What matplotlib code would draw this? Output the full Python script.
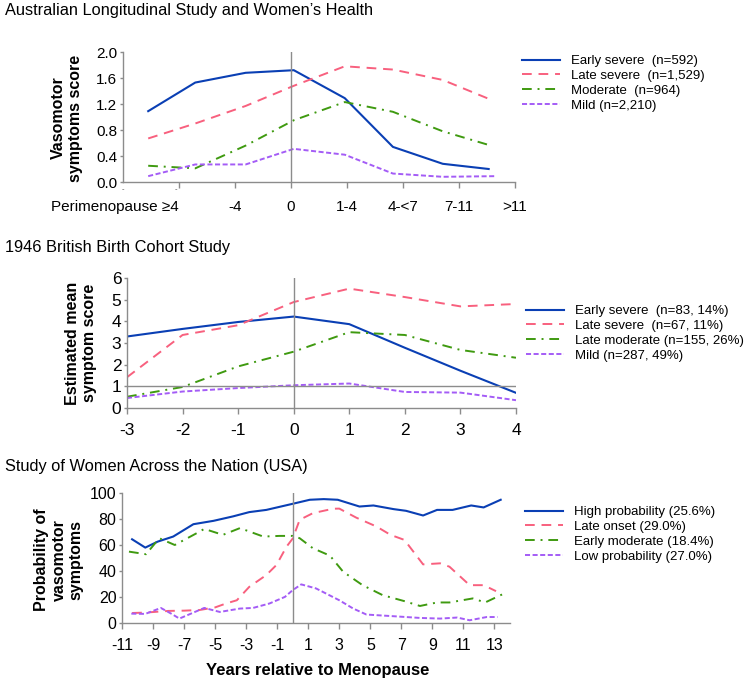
import numpy as np
import matplotlib
matplotlib.use("Agg")
from matplotlib import pyplot as plt
from matplotlib import transforms

plt.rcParams['font.family'] = ['Liberation Sans', 'DejaVu Sans']

# ---- panel 1: Australian Longitudinal Study ----
alsw_x = [-2.55, -1.71, -0.81, 0.05, 0.96, 1.82, 2.71, 3.53]
alsw_mild_x = [-2.55, -1.71, -0.81, 0.05, 0.96, 1.82, 2.71, 3.67]
alsw_early = [1.09, 1.53, 1.68, 1.72, 1.29, 0.54, 0.28, 0.20]
alsw_late = [0.67, 0.90, 1.17, 1.48, 1.78, 1.73, 1.57, 1.28]
alsw_mod = [0.25, 0.21, 0.56, 0.95, 1.23, 1.08, 0.78, 0.57]
alsw_mild = [0.09, 0.27, 0.27, 0.51, 0.42, 0.13, 0.08, 0.09]
alsw_ticks = [-2, -1, 0, 1, 2, 3, 4]
alsw_ticklabels = ["Perimenopause \u22654", "-4", "0", "1-4", "4-<7", "7-11", ">11"]
alsw_labels = ["Early severe  (n=592)", "Late severe  (n=1,529)",
               "Moderate  (n=964)", "Mild (n=2,210)"]

# ---- panel 2: 1946 British Birth Cohort ----
nshd_x = [-3, -2, -1, 0, 1, 2, 3, 4]
nshd_early = [3.30, 3.65, 3.97, 4.22, 3.87, 2.78, 1.72, 0.70]
nshd_late = [1.42, 3.37, 3.82, 4.89, 5.51, 5.12, 4.69, 4.80]
nshd_mod = [0.52, 0.97, 1.92, 2.60, 3.50, 3.37, 2.68, 2.32]
nshd_mild = [0.46, 0.76, 0.92, 1.05, 1.13, 0.74, 0.71, 0.36]
nshd_labels = ["Early severe  (n=83, 14%)", "Late severe  (n=67, 11%)",
               "Late moderate (n=155, 26%)", "Mild (n=287, 49%)"]

# ---- panel 3: SWAN ----
high_x = [-10.35, -9.5, -8.7, -7.7, -6.4, -5.1, -3.85, -2.8, -1.7, 0.0, 1.1, 2.0,
          2.9, 4.3, 5.2, 6.5, 7.3, 8.4, 9.3, 10.3, 11.5, 12.3, 13.4]
high_y = [64.4, 58.0, 62.6, 66.5, 76.0, 78.6, 82.0, 85.3, 87.0, 91.7, 94.8, 95.3,
          94.8, 89.6, 90.4, 87.6, 86.3, 82.7, 87.0, 87.0, 90.4, 88.9, 94.8]
late_x = [-10.35, -9.5, -8.0, -7.0, -6.0, -5.0, -4.3, -3.6, -2.8, -1.7, -1.05, -0.4,
          0.0, 0.45, 1.3, 2.6, 3.0, 4.1, 5.4, 6.3, 7.2, 8.4, 9.5, 10.1, 11.4, 12.3, 13.1]
late_y = [7.7, 8.0, 9.3, 9.5, 10.0, 12.0, 15.0, 17.5, 27.8, 36.9, 44.6, 58.7,
          65.0, 79.4, 84.5, 87.9, 88.0, 81.0, 74.2, 67.8, 63.9, 45.1, 45.9, 43.3,
          29.1, 29.1, 24.5]
mod_x = [-10.55, -9.45, -8.6, -7.6, -6.0, -5.7, -4.5, -3.4, -1.9, -0.85, 0.0, 0.45,
         1.3, 2.4, 3.25, 4.5, 5.8, 7.2, 8.2, 9.3, 10.1, 11.6, 12.4, 13.5]
mod_y = [54.9, 52.9, 65.2, 60.0, 70.3, 72.4, 67.8, 73.0, 66.5, 67.0, 67.0, 65.2,
         57.5, 51.8, 39.4, 29.1, 21.4, 16.8, 13.1, 15.8, 15.8, 18.9, 15.8, 22.0]
low_x = [-10.4, -9.5, -8.5, -7.8, -7.3, -6.4, -5.7, -4.7, -3.4, -2.55, -1.5, -0.5,
         0.0, 0.55, 1.5, 3.0, 3.9, 4.75, 6.25, 8.2, 9.5, 10.6, 11.4, 12.5, 13.2]
low_y = [7.2, 7.0, 11.6, 7.0, 3.4, 8.0, 11.6, 8.5, 11.1, 11.6, 15.0, 20.1,
         25.3, 29.7, 26.6, 17.5, 11.1, 6.5, 5.4, 3.9, 3.4, 4.2, 2.1, 4.6, 4.6]
swan_ticks = list(range(-11, 14, 2))
swan_labels = ["High probability (25.6%)", "Late onset (29.0%)",
               "Early moderate (18.4%)", "Low probability (27.0%)"]

BLUE = "#0a3fb4"
PINK = "#f8607e"
GREEN = "#3f9a10"
PURPLE = "#a45cf6"
GREY = "#8c8c8c"
styles = [
    dict(color=BLUE, lw=1.5, ls="-"),
    dict(color=PINK, lw=1.4, ls=(0, (5, 3.5))),
    dict(color=GREEN, lw=1.4, ls=(0, (5, 3, 1, 3))),
    dict(color=PURPLE, lw=1.4, ls=(0, (2.6, 1.3))),
]

W, H = 750, 684
fig = plt.figure(figsize=(7.5, 6.84), dpi=100)


def px_axes(left, top, right, bottom):
    return fig.add_axes([left / W, 1 - bottom / H, (right - left) / W, (bottom - top) / H])


def style_axes(ax, size=11):
    for s in ["top", "right"]:
        ax.spines[s].set_visible(False)
    for s in ["left", "bottom"]:
        ax.spines[s].set_color(GREY)
        ax.spines[s].set_linewidth(1.0)
    ax.tick_params(axis="x", colors=GREY, labelcolor="black", length=4, width=1,
                   direction="out", pad=7, labelsize=size)
    ax.tick_params(axis="y", colors=GREY, labelcolor="black", length=2, width=1,
                   direction="out", pad=2, labelsize=size)


def add_legend(ax, labels, x_px, y_px):
    handles = ax.get_lines()[:4]
    fig.legend(handles, labels, loc="upper left",
               bbox_to_anchor=(x_px / W, 1 - y_px / H), frameon=False,
               fontsize=9.5, handlelength=2.9, handletextpad=0.8,
               labelspacing=0.2, borderpad=0, borderaxespad=0)


# panel 1
ax1 = px_axes(123, 52, 515, 182)
for ys, xs, st in zip([alsw_early, alsw_late, alsw_mod, alsw_mild],
                      [alsw_x, alsw_x, alsw_x, alsw_mild_x], styles):
    ax1.plot(xs, ys, **st)
ax1.axvline(0, color=GREY, lw=1)
ax1.set_xlim(-3, 4)
ax1.set_ylim(0, 2.0)
ax1.set_yticks(np.arange(0, 2.01, 0.4))
ax1.set_yticklabels(["%.1f" % v for v in np.arange(0, 2.01, 0.4)])
ax1.set_xticks(alsw_ticks)
ax1.set_xticklabels(alsw_ticklabels)
style_axes(ax1, 11)
ax1.tick_params(axis="x", pad=9)
ax1.get_xticklabels()[0].set_horizontalalignment("right")
ax1.get_xticklabels()[0].set_x(-1.93)
trans = transforms.blended_transform_factory(ax1.transData, ax1.transAxes)
for xv in [-3, -2.05]:
    ax1.text(xv, -0.035, "-", transform=trans, ha="center", va="top", fontsize=5.5,
             color="#555555")
add_legend(ax1, alsw_labels, 522, 55)

# panel 2
ax2 = px_axes(127, 278, 516, 408)
for ys, st in zip([nshd_early, nshd_late, nshd_mod, nshd_mild], styles):
    ax2.plot(nshd_x, ys, **st)
ax2.axvline(0, color=GREY, lw=1)
ax2.axhline(1, color=GREY, lw=1)
ax2.set_xlim(-3, 4)
ax2.set_ylim(0, 6)
ax2.set_xticks(nshd_x)
ax2.set_xticklabels([str(v) for v in nshd_x])
ax2.set_yticks(range(0, 7))
style_axes(ax2, 12.5)
add_legend(ax2, nshd_labels, 526, 305)

# panel 3
ax3 = px_axes(122, 493, 510, 623)
for xs, ys, st in zip([high_x, late_x, mod_x, low_x],
                      [high_y, late_y, mod_y, low_y], styles):
    ax3.plot(xs, ys, **st)
ax3.axvline(0, color=GREY, lw=1)
ax3.set_xlim(-11, 14)
ax3.set_ylim(0, 100)
ax3.set_xticks(swan_ticks)
ax3.set_xticklabels([str(v) for v in swan_ticks])
ax3.set_yticks(range(0, 101, 20))
style_axes(ax3, 11.5)
add_legend(ax3, swan_labels, 525, 506)

# titles and axis labels
title_kw = dict(fontsize=11.8, ha="left", va="center")
fig.text(5 / W, 1 - 11 / H, "Australian Longitudinal Study and Women\u2019s Health", **title_kw)
fig.text(5 / W, 1 - 247 / H, "1946 British Birth Cohort Study", **title_kw)
fig.text(5 / W, 1 - 466 / H, "Study of Women Across the Nation (USA)", **title_kw)

ylab_kw = dict(fontsize=11.5, fontweight="bold", rotation=90, ha="center",
               va="center", multialignment="center")
fig.text(67 / W, 1 - 118 / H, "Vasomotor\nsymptoms score", **ylab_kw)
fig.text(81 / W, 1 - 343 / H, "Estimated mean\nsymptom score", **ylab_kw)
fig.text(59 / W, 1 - 560 / H, "Probability of\nvasomotor\nsymptoms", **ylab_kw)
fig.text(318 / W, 1 - 670 / H, "Years relative to Menopause", fontsize=12,
         fontweight="bold", ha="center", va="center")

fig.savefig("out.png", dpi=100)
